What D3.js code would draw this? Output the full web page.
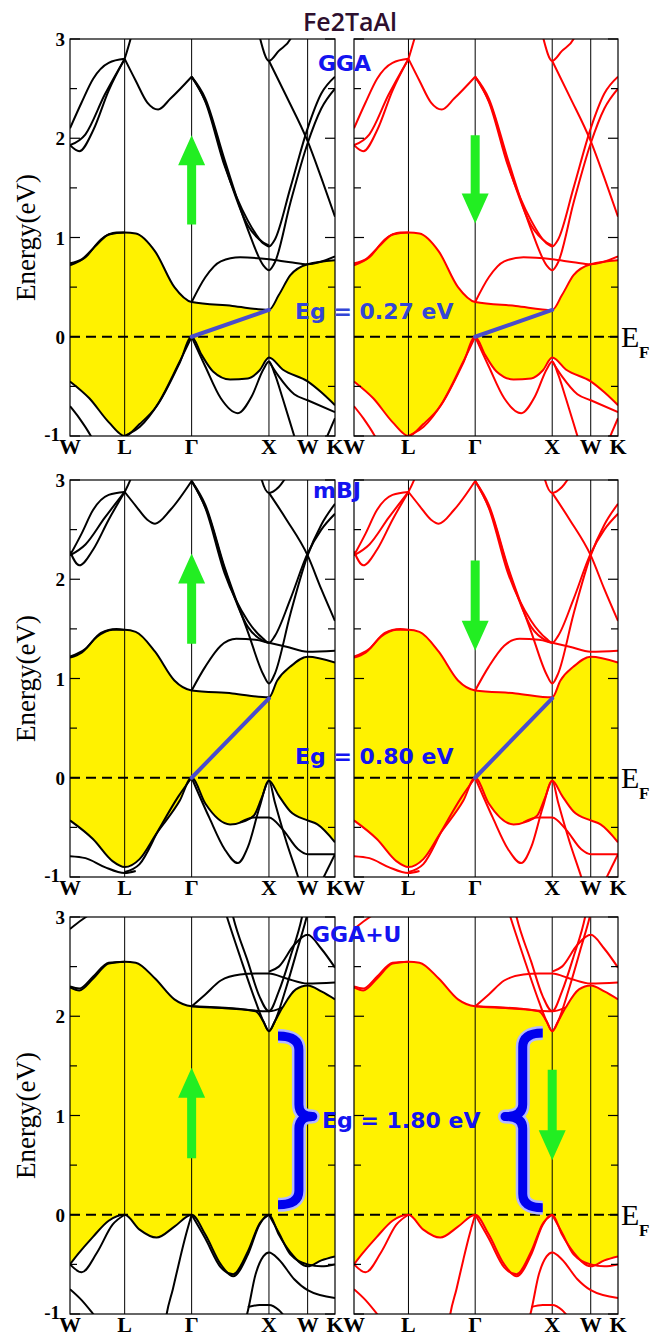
<!DOCTYPE html>
<html>
<head>
<meta charset="utf-8">
<script src="https://cdn.jsdelivr.net/npm/d3@7"></script>
<style>
body { margin: 0; background: #fff; }
</style>
</head>
<body>
<svg id="chart" width="651" height="1338"></svg>
<script>
//---------- k-path and axis values ----------
var kTicks = [0, 0.707, 1.573, 2.573, 3.073, 3.427];
var kLabels = ["W", "L", "\u0393", "X", "W", "K"];
var yTicks = [-1, 0, 1, 2, 3];
var yMinorTicks = [-0.5, 0.5, 1.5, 2.5];
var methods = ["GGA", "mBJ", "GGA+U"];
var gapValues = [0.27, 0.80, 1.80];
var gapLabels = ["Eg = 0.27 eV", "Eg = 0.80 eV", "Eg = 1.80 eV"];

//---------- GGA bands [k, E] ----------
var ggaVBM = [[0,-0.45],[0.25,-0.62],[0.5,-0.86],[0.707,-1.0],[0.9,-0.88],[1.12,-0.70],[1.42,-0.26],[1.573,0],[1.7,-0.18],[1.85,-0.35],[2.07,-0.43],[2.3,-0.42],[2.45,-0.34],[2.573,-0.21],[2.75,-0.33],[3.073,-0.45],[3.25,-0.56],[3.427,-0.69]];
var ggaCBM = [[0,0.74],[0.15,0.78],[0.35,0.93],[0.5,1.03],[0.707,1.05],[0.85,1.04],[1.1,0.86],[1.35,0.5],[1.573,0.35],[2.1,0.31],[2.573,0.27],[2.7,0.42],[2.85,0.62],[3.073,0.73],[3.427,0.77]];
var ggaBands = [
  [[0,0.72],[0.2,0.8],[0.4,0.98],[0.6,1.05],[0.707,1.05]],
  [[1.573,0.35],[1.75,0.6],[1.95,0.76],[2.2,0.8],[2.573,0.78],[2.85,0.75],[3.073,0.73],[3.427,0.81]],
  [[1.573,2.62],[1.75,2.4],[2.0,1.78],[2.3,1.08],[2.5,0.72],[2.573,0.67],[2.65,0.75],[2.85,1.35],[3.073,1.95],[3.25,2.3],[3.427,2.5]],
  [[1.573,2.62],[1.75,2.37],[2.0,1.72],[2.3,1.17],[2.5,0.94],[2.573,0.91],[2.65,0.98],[2.85,1.5],[3.073,2.1],[3.25,2.45],[3.427,2.62]],
  [[1.573,2.62],[1.78,2.32],[2.0,1.74],[2.3,1.12],[2.5,0.95],[2.573,0.92]],
  [[2.573,2.78],[2.8,2.42],[3.073,1.97],[3.25,1.6],[3.427,1.21]],
  [[2.38,3.3],[2.46,3.0],[2.573,2.78],[2.7,2.88],[2.85,3.0],[2.95,3.2]],
  [[0,2.1],[0.15,2.36],[0.3,2.6],[0.5,2.76],[0.707,2.8]],
  [[0,1.93],[0.12,1.87],[0.3,2.08],[0.5,2.48],[0.707,2.8]],
  [[0,1.93],[0.2,2.04],[0.45,2.44],[0.707,2.8]],
  [[0.707,2.8],[0.8,3.05],[0.9,3.4]],
  [[0.707,2.8],[0.85,2.58],[1.0,2.36],[1.14,2.29],[1.3,2.4],[1.573,2.62]],
  [[1.573,0],[1.75,-0.3],[1.95,-0.62],[2.17,-0.77],[2.35,-0.6],[2.5,-0.33],[2.573,-0.25],[2.65,-0.38],[2.75,-0.62],[2.9,-1.0],[3.0,-1.25]],
  [[0.6,-1.05],[0.707,-1.0],[0.9,-0.91],[1.15,-0.66],[1.4,-0.28],[1.573,0]],
  [[0,-0.70],[0.12,-0.82],[0.27,-1.0],[0.4,-1.2]],
  [[2.573,-0.25],[2.7,-0.4],[2.9,-0.58],[3.073,-0.64],[3.427,-0.76]],
  [[3.3,-1.05],[3.427,-0.82]]
];

//---------- mBJ bands ----------
var mbjVBM = [[0,-0.43],[0.3,-0.62],[0.55,-0.84],[0.707,-0.90],[0.9,-0.82],[1.12,-0.56],[1.42,-0.23],[1.573,0],[1.75,-0.26],[2.07,-0.47],[2.25,-0.44],[2.38,-0.38],[2.48,-0.2],[2.573,-0.03],[2.7,-0.18],[2.85,-0.34],[3.073,-0.43],[3.2,-0.47],[3.427,-0.65]];
var mbjCBM = [[0,1.21],[0.15,1.26],[0.35,1.42],[0.55,1.49],[0.707,1.49],[0.85,1.47],[1.1,1.27],[1.35,0.98],[1.573,0.88],[2.1,0.85],[2.573,0.81],[2.68,0.98],[2.85,1.12],[3.073,1.22],[3.427,1.16]];
var mbjBands = [
  [[0,1.22],[0.2,1.3],[0.4,1.46],[0.6,1.5],[0.707,1.49]],
  [[1.573,0.88],[1.75,1.12],[1.95,1.33],[2.15,1.40],[2.4,1.39],[2.573,1.36],[2.8,1.32],[3.073,1.27],[3.427,1.28]],
  [[1.573,2.99],[1.75,2.75],[2.0,2.12],[2.3,1.47],[2.5,1.04],[2.573,0.95],[2.65,1.05],[2.85,1.65],[3.073,2.24],[3.25,2.55],[3.427,2.76]],
  [[1.573,2.99],[1.75,2.72],[2.0,2.06],[2.3,1.58],[2.5,1.4],[2.573,1.36],[2.65,1.43],[2.85,1.8],[3.073,2.26],[3.25,2.5],[3.427,2.66]],
  [[1.573,2.99],[1.78,2.67],[2.0,2.1],[2.3,1.52],[2.5,1.38],[2.573,1.36]],
  [[2.573,2.87],[2.8,2.6],[3.073,2.24],[3.25,1.9],[3.427,1.58]],
  [[2.40,3.3],[2.48,3.0],[2.573,2.87],[2.7,2.93],[2.85,3.1]],
  [[0,2.24],[0.15,2.46],[0.3,2.7],[0.5,2.85],[0.707,2.88]],
  [[0,2.28],[0.12,2.14],[0.3,2.3],[0.5,2.6],[0.707,2.88]],
  [[0,2.24],[0.2,2.35],[0.45,2.62],[0.707,2.88]],
  [[0.707,2.88],[0.78,3.0],[0.9,3.3]],
  [[0.707,2.88],[0.85,2.74],[1.0,2.6],[1.1,2.56],[1.3,2.7],[1.573,2.99]],
  [[1.573,0],[1.8,-0.4],[2.0,-0.72],[2.17,-0.86],[2.3,-0.7],[2.45,-0.3],[2.573,-0.03],[2.65,-0.25],[2.8,-0.65],[2.95,-1.0],[3.05,-1.25]],
  [[2.2,-0.45],[2.38,-0.40],[2.573,-0.40],[2.75,-0.52],[2.95,-0.72],[3.073,-0.77],[3.427,-0.77]],
  [[0.707,-0.95],[0.9,-0.87],[1.15,-0.52],[1.4,-0.19],[1.573,0]],
  [[0,-0.79],[0.2,-0.81],[0.45,-0.9],[0.707,-0.96],[0.85,-0.94]],
  [[3.25,-1.05],[3.427,-0.77]]
];

//---------- GGA+U bands ----------
var ggauVBM = [[0,-0.50],[0.1,-0.40],[0.3,-0.22],[0.5,-0.06],[0.707,0],[0.9,-0.15],[1.12,-0.23],[1.35,-0.12],[1.573,0],[1.75,-0.2],[1.95,-0.5],[2.11,-0.62],[2.3,-0.4],[2.45,-0.1],[2.573,0],[2.7,-0.2],[2.85,-0.38],[3.073,-0.52],[3.25,-0.46],[3.427,-0.42]];
var ggauCBM = [[0,2.29],[0.12,2.26],[0.3,2.38],[0.5,2.53],[0.707,2.55],[0.85,2.54],[1.1,2.38],[1.35,2.17],[1.573,2.10],[2.0,2.08],[2.4,2.05],[2.5,1.95],[2.573,1.85],[2.65,1.95],[2.75,2.09],[2.92,2.27],[3.073,2.31],[3.25,2.25],[3.427,2.17]];
var ggauBands = [
  [[0,2.30],[0.12,2.28],[0.3,2.40],[0.5,2.54],[0.707,2.55]],
  [[1.573,2.10],[2.1,2.08],[2.573,2.05],[2.75,2.09]],
  [[1.573,2.10],[1.75,2.22],[1.95,2.36],[2.2,2.42],[2.4,2.43],[2.573,2.43],[2.8,2.38],[3.073,2.33],[3.427,2.34]],
  [[2.573,2.45],[2.7,2.5],[2.9,2.72],[3.073,2.82],[3.25,2.68],[3.427,2.49]],
  [[1.95,3.2],[2.03,3.0],[2.2,2.6],[2.4,2.15],[2.5,1.95],[2.573,1.85],[2.65,1.95],[2.8,2.3],[2.95,2.7],[3.06,3.0],[3.12,3.2]],
  [[2.05,3.2],[2.11,3.0],[2.3,2.55],[2.45,2.2],[2.573,2.05],[2.7,2.25],[2.85,2.6],[3.0,3.0],[3.05,3.2]],
  [[0,2.88],[0.15,2.97],[0.3,3.05]],
  [[0,-0.50],[0.15,-0.58],[0.35,-0.38],[0.55,-0.1],[0.707,0]],
  [[1.22,-1.15],[1.25,-1.0],[1.33,-0.75],[1.42,-0.45],[1.5,-0.2],[1.573,0]],
  [[1.573,0],[1.75,-0.24],[1.95,-0.53],[2.11,-0.60],[2.3,-0.37],[2.45,-0.09],[2.573,0]],
  [[2.25,-1.1],[2.29,-1.0],[2.4,-0.6],[2.5,-0.42],[2.573,-0.38],[2.7,-0.45],[2.9,-0.65],[3.073,-0.76],[3.427,-0.84]],
  [[2.3,-0.93],[2.45,-0.91],[2.573,-0.91],[2.7,-0.96],[2.8,-1.05]],
  [[2.573,0],[2.7,-0.18],[2.85,-0.4],[3.073,-0.5],[3.25,-0.52],[3.427,-0.5]],
  [[0,-0.75],[0.15,-0.86],[0.3,-1.0],[0.4,-1.1]]
];

//---------- spin arrows [row, col, k, Etail, Etip] ----------
var spinArrows = [
  [0, 0, 1.573, 1.13, 2.03],
  [0, 1, 1.573, 2.03, 1.14],
  [1, 0, 1.573, 1.35, 2.26],
  [1, 1, 1.573, 2.19, 1.28],
  [2, 0, 1.573, 0.57, 1.48],
  [2, 1, 2.573, 1.46, 0.55]
];

//---------- layout ----------
var rowTop = [39, 480, 917];
var panelH = 397;
var colX = [70, 354];
var panelW = [265, 264];
var bandColor = ["#000000", "#ff0000"];
var yellow = "#fff200";
var serif = "'Liberation Serif', 'Times New Roman', serif";
var sans = "'DejaVu Sans', sans-serif";

var rows = [
  {vbm: ggaVBM, cbm: ggaCBM, bands: ggaBands},
  {vbm: mbjVBM, cbm: mbjCBM, bands: mbjBands},
  {vbm: ggauVBM, cbm: ggauCBM, bands: ggauBands}
];

var svg = d3.select("#chart");
var defs = svg.append("defs");
var scales = {};

//---------- panels ----------
rows.forEach(function (row, r) {
  colX.forEach(function (x0, c) {
    var xScale = d3.scaleLinear().domain([0, 3.427]).range([x0, x0 + panelW[c]]);
    var yScale = d3.scaleLinear().domain([-1, 3]).range([rowTop[r] + panelH, rowTop[r]]);
    scales[r + "_" + c] = {x: xScale, y: yScale};
    var id = "clip" + r + c;
    defs.append("clipPath").attr("id", id).append("rect")
      .attr("x", x0).attr("y", rowTop[r])
      .attr("width", panelW[c]).attr("height", panelH);
    var g = svg.append("g").attr("clip-path", "url(#" + id + ")");

    var area = d3.area()
      .x(function (d) { return xScale(d[0]); })
      .y0(function (d) { return yScale(d[1]); })
      .y1(yScale(3.2))
      .curve(d3.curveMonotoneX);
    // yellow between valence top and conduction bottom
    g.append("path").datum(row.vbm).attr("d", area).attr("fill", yellow);
    g.append("path").datum(row.cbm).attr("d", area).attr("fill", "#fff");

    // high symmetry lines
    g.selectAll(".kline").data(kTicks.slice(1, 5)).enter().append("line")
      .attr("x1", function (d) { return xScale(d); })
      .attr("x2", function (d) { return xScale(d); })
      .attr("y1", yScale(-1)).attr("y2", yScale(3))
      .attr("stroke", "#000").attr("stroke-width", 1);

    // Fermi level
    g.append("line")
      .attr("x1", xScale(0)).attr("x2", xScale(3.427))
      .attr("y1", yScale(0)).attr("y2", yScale(0))
      .attr("stroke", "#000").attr("stroke-width", 2)
      .attr("stroke-dasharray", "10,6");

    var line = d3.line()
      .x(function (d) { return xScale(d[0]); })
      .y(function (d) { return yScale(d[1]); })
      .curve(d3.curveMonotoneX);
    var all = [row.vbm, row.cbm].concat(row.bands);
    g.selectAll(".band").data(all).enter().append("path")
      .attr("d", line)
      .attr("fill", "none")
      .attr("stroke", bandColor[c])
      .attr("stroke-width", 2);

    // gap line
    if (r < 2) {
      svg.append("line")
        .attr("x1", xScale(1.573)).attr("y1", yScale(0))
        .attr("x2", xScale(2.573)).attr("y2", yScale(gapValues[r]))
        .attr("stroke", "#4a4ccc").attr("stroke-width", 4)
        .attr("stroke-linecap", "round");
    }

    // frame
    svg.append("rect")
      .attr("x", x0).attr("y", rowTop[r])
      .attr("width", panelW[c]).attr("height", panelH)
      .attr("fill", "none").attr("stroke", "#000").attr("stroke-width", 1.2);

    // ticks on both sides
    var tickData = yTicks.map(function (v) { return [v, 10]; })
      .concat(yMinorTicks.map(function (v) { return [v, 7]; }));
    tickData.forEach(function (t) {
      svg.append("line")
        .attr("x1", x0).attr("x2", x0 + t[1])
        .attr("y1", yScale(t[0])).attr("y2", yScale(t[0]))
        .attr("stroke", "#000").attr("stroke-width", 1.2);
      svg.append("line")
        .attr("x1", x0 + panelW[c] - t[1]).attr("x2", x0 + panelW[c])
        .attr("y1", yScale(t[0])).attr("y2", yScale(t[0]))
        .attr("stroke", "#000").attr("stroke-width", 1.2);
    });

    // k labels
    svg.selectAll(null).data(kTicks).enter().append("text")
      .attr("x", function (d) { return xScale(d); })
      .attr("y", yScale(-1) + 18)
      .attr("text-anchor", "middle")
      .attr("font-family", serif).attr("font-weight", "bold")
      .attr("font-size", 22)
      .text(function (d, i) { return kLabels[i]; });

    if (c === 0) {
      svg.selectAll(null).data(yTicks).enter().append("text")
        .attr("x", function (d) { return d === -1 ? x0 - 10 : x0 - 5; })
        .attr("y", function (d) { return yScale(d) + (d === -1 ? 5 : 7); })
        .attr("text-anchor", "end")
        .attr("font-family", serif).attr("font-weight", "bold")
        .attr("font-size", 19)
        .text(function (d) { return d; });
      svg.append("text")
        .attr("transform", "translate(35," + yScale(1) + ") rotate(-90)")
        .attr("text-anchor", "middle")
        .attr("font-family", serif).attr("font-size", 27)
        .text("Energy(eV)");
    } else {
      svg.append("text")
        .attr("x", 621).attr("y", yScale(0) + 10)
        .attr("font-family", serif).attr("font-size", 30)
        .text("E");
      svg.append("text")
        .attr("x", 639).attr("y", yScale(0) + 21)
        .attr("font-family", serif).attr("font-weight", "bold").attr("font-size", 17)
        .text("F");
    }
  });
});

//---------- spin arrows ----------
spinArrows.forEach(function (a) {
  var s = scales[a[0] + "_" + a[1]];
  var x = s.x(a[2]), y0 = s.y(a[3]), y1 = s.y(a[4]);
  var dir = y1 < y0 ? -1 : 1;
  var hb = y1 - dir * 30;
  var pts = [[x - 4.5, y0], [x - 4.5, hb], [x - 13.5, hb], [x, y1], [x + 13.5, hb], [x + 4.5, hb], [x + 4.5, y0]];
  svg.append("polygon")
    .attr("points", pts.map(function (p) { return p.join(","); }).join(" "))
    .attr("fill", "#22ee22");
});

//---------- braces for GGA+U ----------
function brace(s, kEnd, kSpine, kTip, eTop, eBot, eTip) {
  var xe = s.x(kEnd), xs = s.x(kSpine), xt = s.x(kTip);
  var yt = s.y(eTop), yb = s.y(eBot), ym = s.y(eTip);
  var p = d3.path();
  p.moveTo(xe, yt);
  p.quadraticCurveTo(xs, yt, xs, yt + 14);
  p.lineTo(xs, ym - 12);
  p.quadraticCurveTo(xs, ym, xt, ym);
  p.quadraticCurveTo(xs, ym, xs, ym + 12);
  p.lineTo(xs, yb - 14);
  p.quadraticCurveTo(xs, yb, xe, yb);
  return p.toString();
}
var braceSpecs = [
  [scales["2_0"], 2.69, 2.96, 3.14, 1.80, 0.10, 0.99],
  [scales["2_1"], 2.45, 2.19, 1.96, 1.83, 0.07, 0.99]
];
braceSpecs.forEach(function (b) {
  var d = brace.apply(null, b);
  svg.append("path").attr("d", d).attr("fill", "none")
    .attr("stroke", "#b4b8ff").attr("stroke-width", 14).attr("stroke-linejoin", "round");
  svg.append("path").attr("d", d).attr("fill", "none")
    .attr("stroke", "#0000ee").attr("stroke-width", 9).attr("stroke-linejoin", "round");
});

//---------- titles and labels ----------
svg.append("text")
  .attr("x", 350).attr("y", 31)
  .attr("text-anchor", "middle")
  .attr("font-family", "'Open Sans', sans-serif").attr("font-weight", 600).attr("font-size", 25)
  .attr("fill", "#2e0f2e")
  .text("Fe2TaAl");

var methodPos = [[318, 71], [313, 498], [312, 942]];
methods.forEach(function (m, i) {
  svg.append("text")
    .attr("x", methodPos[i][0]).attr("y", methodPos[i][1])
    .attr("font-family", sans).attr("font-weight", "bold").attr("font-size", 22)
    .attr("fill", "#1414f0")
    .text(m);
});

var gapPos = [[295, 319], [295, 764], [322, 1128]];
gapLabels.forEach(function (t, i) {
  svg.append("text")
    .attr("x", gapPos[i][0]).attr("y", gapPos[i][1])
    .attr("font-family", sans).attr("font-weight", "bold").attr("font-size", 22)
    .attr("fill", i === 0 ? "#3346d6" : "#1414f0")
    .text(t);
});
</script>
</body>
</html>
